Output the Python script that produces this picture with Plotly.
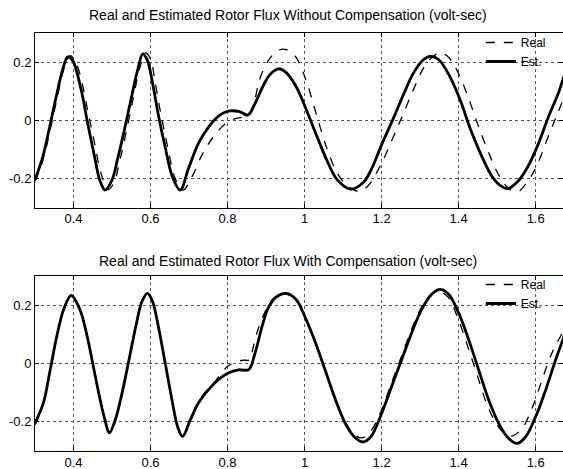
import plotly.graph_objects as go
from plotly.subplots import make_subplots

# ---------------- data ----------------
x_ticks = [0.4, 0.6, 0.8, 1.0, 1.2, 1.4, 1.6]
x_tick_labels = ["0.4", "0.6", "0.8", "1", "1.2", "1.4", "1.6"]
y_ticks = [-0.2, 0.0, 0.2]
y_tick_labels = ["-0.2", "0", "0.2"]

top_title = "Real and Estimated Rotor Flux Without Compensation (volt-sec)"
bot_title = "Real and Estimated Rotor Flux With Compensation (volt-sec)"

top_real_t = [0.300, 0.320, 0.340, 0.358, 0.375, 0.392, 0.405, 0.416, 0.435, 0.455, 0.472, 0.490,
              0.505, 0.520, 0.537, 0.555, 0.572, 0.587, 0.600, 0.612, 0.627, 0.645, 0.664, 0.684,
              0.708, 0.734, 0.761, 0.787, 0.813, 0.839, 0.857, 0.870, 0.883, 0.905, 0.928, 0.949,
              0.970, 0.984, 1.006, 1.032, 1.059, 1.085, 1.111, 1.142, 1.165, 1.200, 1.231, 1.257,
              1.283, 1.309, 1.335, 1.353, 1.375, 1.401, 1.427, 1.453, 1.480, 1.506, 1.532, 1.554,
              1.576, 1.602, 1.628, 1.654, 1.675]
top_real = [-0.210, -0.140, -0.030, 0.080, 0.175, 0.222, 0.200, 0.162, 0.046, -0.081, -0.185, -0.238,
            -0.215, -0.140, -0.040, 0.075, 0.180, 0.232, 0.210, 0.130, 0.020, -0.095, -0.200, -0.240,
            -0.193, -0.118, -0.061, -0.021, 0.002, 0.011, 0.020, 0.066, 0.140, 0.203, 0.238, 0.244,
            0.228, 0.203, 0.129, 0.014, -0.101, -0.182, -0.225, -0.245, -0.225, -0.147, -0.055, 0.025,
            0.106, 0.180, 0.221, 0.232, 0.215, 0.157, 0.071, -0.026, -0.118, -0.193, -0.237, -0.245,
            -0.216, -0.159, -0.072, 0.014, 0.083]

top_est_t = [0.300, 0.320, 0.338, 0.355, 0.372, 0.385, 0.398, 0.420, 0.437, 0.455, 0.468, 0.482,
             0.500, 0.515, 0.531, 0.549, 0.566, 0.580, 0.592, 0.605, 0.620, 0.638, 0.657, 0.677,
             0.699, 0.725, 0.752, 0.778, 0.800, 0.831, 0.853, 0.870, 0.892, 0.910, 0.932, 0.953,
             0.980, 1.006, 1.032, 1.059, 1.085, 1.120, 1.151, 1.173, 1.200, 1.231, 1.257, 1.283,
             1.309, 1.327, 1.348, 1.379, 1.405, 1.431, 1.458, 1.484, 1.506, 1.528, 1.554, 1.580,
             1.606, 1.632, 1.659, 1.675]
top_est = [-0.205, -0.127, -0.023, 0.081, 0.175, 0.218, 0.205, 0.104, -0.012, -0.127, -0.205, -0.240,
           -0.205, -0.130, -0.040, 0.070, 0.170, 0.228, 0.205, 0.130, 0.020, -0.092, -0.195, -0.240,
           -0.164, -0.078, -0.021, 0.016, 0.031, 0.030, 0.018, 0.054, 0.117, 0.157, 0.177, 0.163,
           0.111, 0.031, -0.055, -0.141, -0.205, -0.237, -0.216, -0.170, -0.084, 0.008, 0.089, 0.163,
           0.209, 0.220, 0.209, 0.146, 0.066, -0.032, -0.118, -0.187, -0.222, -0.235, -0.210, -0.159,
           -0.084, 0.008, 0.094, 0.157]

bot_real_t = [0.300, 0.322, 0.339, 0.357, 0.374, 0.394, 0.417, 0.435, 0.452, 0.469, 0.482, 0.491,
              0.508, 0.526, 0.545, 0.562, 0.578, 0.590, 0.605, 0.620, 0.637, 0.655, 0.670, 0.683,
              0.703, 0.724, 0.750, 0.767, 0.784, 0.802, 0.819, 0.840, 0.858, 0.866, 0.879, 0.897,
              0.920, 0.950, 0.978, 1.004, 1.030, 1.056, 1.082, 1.108, 1.130, 1.148, 1.170, 1.198,
              1.224, 1.250, 1.276, 1.302, 1.328, 1.348, 1.372, 1.396, 1.422, 1.448, 1.474, 1.500,
              1.520, 1.540, 1.565, 1.590, 1.615, 1.640, 1.672]
bot_real = [-0.210, -0.134, -0.024, 0.097, 0.185, 0.232, 0.185, 0.097, -0.013, -0.123, -0.195, -0.235,
            -0.195, -0.101, 0.020, 0.130, 0.215, 0.240, 0.215, 0.130, 0.010, -0.120, -0.215, -0.245,
            -0.190, -0.130, -0.085, -0.062, -0.032, -0.007, 0.005, 0.012, 0.014, 0.054, 0.118, 0.178,
            0.225, 0.240, 0.220, 0.152, 0.066, -0.032, -0.128, -0.205, -0.245, -0.255, -0.235, -0.165,
            -0.072, 0.020, 0.112, 0.190, 0.236, 0.248, 0.230, 0.164, 0.066, -0.038, -0.142, -0.211,
            -0.240, -0.248, -0.222, -0.155, -0.062, 0.030, 0.112]

bot_est_t = [0.300, 0.322, 0.339, 0.357, 0.374, 0.394, 0.417, 0.435, 0.452, 0.469, 0.482, 0.493,
             0.508, 0.526, 0.545, 0.562, 0.578, 0.592, 0.605, 0.620, 0.637, 0.655, 0.670, 0.683,
             0.703, 0.724, 0.750, 0.776, 0.802, 0.828, 0.855, 0.870, 0.890, 0.905, 0.925, 0.953,
             0.978, 1.004, 1.030, 1.056, 1.082, 1.108, 1.129, 1.151, 1.172, 1.200, 1.226, 1.252,
             1.278, 1.304, 1.330, 1.352, 1.374, 1.400, 1.426, 1.452, 1.478, 1.504, 1.530, 1.552,
             1.574, 1.600, 1.626, 1.652, 1.677]
bot_est = [-0.205, -0.134, -0.024, 0.097, 0.185, 0.235, 0.185, 0.097, -0.013, -0.123, -0.195, -0.238,
           -0.195, -0.101, 0.020, 0.130, 0.215, 0.242, 0.215, 0.130, 0.010, -0.120, -0.215, -0.250,
           -0.194, -0.136, -0.090, -0.055, -0.032, -0.021, -0.020, 0.030, 0.130, 0.190, 0.228, 0.242,
           0.221, 0.152, 0.066, -0.032, -0.130, -0.211, -0.251, -0.269, -0.251, -0.171, -0.078, 0.014,
           0.106, 0.187, 0.239, 0.256, 0.239, 0.175, 0.083, -0.021, -0.124, -0.205, -0.257, -0.274,
           -0.251, -0.182, -0.090, 0.014, 0.106]

x_range = [0.3, 1.671]
y_range = [-0.3, 0.3]

# ---------------- figure ----------------
FONT = "Liberation Sans, Arial, Helvetica, sans-serif"
fig = make_subplots(rows=2, cols=1, vertical_spacing=0.165)

for row, (rt, rv, et, ev, lg) in enumerate(
        [(top_real_t, top_real, top_est_t, top_est, "legend"),
         (bot_real_t, bot_real, bot_est_t, bot_est, "legend2")], start=1):
    fig.add_trace(go.Scatter(x=rt, y=rv, mode="lines", name="Real", legend=lg,
                             line=dict(color="black", width=1.3, dash="dash", shape="spline")),
                  row=row, col=1)
    fig.add_trace(go.Scatter(x=et, y=ev, mode="lines", name="Est.", legend=lg,
                             line=dict(color="black", width=2.8, shape="spline")),
                  row=row, col=1)

axis_common = dict(showline=True, linecolor="black", linewidth=1, mirror="ticks",
                   ticks="inside", ticklen=4, tickcolor="black", automargin=False,
                   showgrid=True, gridcolor="#555555", gridwidth=0.6, griddash="dot",
                   zeroline=False, tickfont=dict(family=FONT, size=13, color="black"))

fig.update_xaxes(range=x_range, tickvals=x_ticks, ticktext=x_tick_labels,
                 ticklabelstandoff=-1, **axis_common)
fig.update_yaxes(range=y_range, tickvals=y_ticks, ticktext=y_tick_labels, **axis_common)

fig.update_layout(
    template="none",
    width=563, height=469,
    margin=dict(l=35, r=0, t=33, b=18),
    paper_bgcolor="white", plot_bgcolor="white",
    font=dict(family=FONT, color="black"),
    showlegend=True,
    legend=dict(x=0.977, y=1.012, xanchor="right", yanchor="top",
                bgcolor="rgba(0,0,0,0)", font=dict(size=12), itemwidth=30, tracegroupgap=0),
    legend2=dict(x=0.977, y=0.433, xanchor="right", yanchor="top",
                 bgcolor="rgba(0,0,0,0)", font=dict(size=12), itemwidth=30, tracegroupgap=0),
    annotations=[
        dict(text=top_title, xref="paper", yref="paper", x=0.48, y=1.043,
             showarrow=False, font=dict(size=14), xanchor="center", yanchor="middle"),
        dict(text=bot_title, xref="paper", yref="paper", x=0.48, y=0.455,
             showarrow=False, font=dict(size=14), xanchor="center", yanchor="middle"),
    ],
)

# remove the browser's default 8px body margin so the figure fills the window exactly
fig.write_html("out.html", config={"displayModeBar": False},
               post_script="document.body.style.margin='0';document.body.style.overflow='hidden';")
